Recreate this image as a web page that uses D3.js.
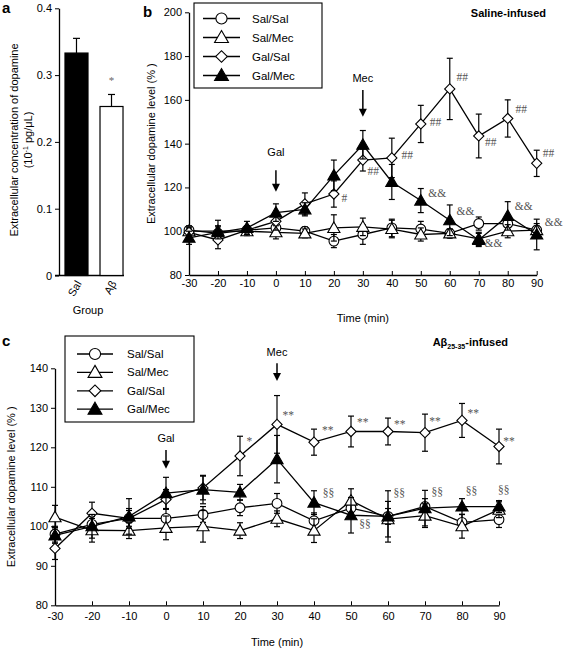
<!DOCTYPE html>
<html><head><meta charset="utf-8">
<script src="https://cdn.jsdelivr.net/npm/d3@7/dist/d3.min.js"></script>
<style>
body{margin:0;background:#fff;}
svg{font-family:"Liberation Sans",Arial,sans-serif;}
</style></head>
<body><svg id="c" width="563" height="650"></svg>
<script>
// ---------- DATA ----------
const groups = ["Sal", "Aβ"];
const groupValues = [0.333, 0.253];
const groupErr = [0.022, 0.018];
const groupTicks = [0, 0.1, 0.2, 0.3, 0.4];

const times = [-30, -20, -10, 0, 10, 20, 30, 40, 50, 60, 70, 80, 90];
const seriesNames = ["Sal/Sal", "Sal/Mec", "Gal/Sal", "Gal/Mec"];

// panel b (saline-infused)
const bSalSal = [100.5, 99, 100.5, 101.5, 100, 95.5, 98.5, 101.5, 101, 99, 103.5, 103.5, 100.5];
const bSalSalErr = [2, 3, 2, 3, 2, 3, 4.5, 4, 3.5, 2, 3, 3, 2];
const bSalMec = [100, 100, 100, 99.5, 99, 101.5, 102, 101, 98.5, 99, 96.5, 100, 100.5];
const bSalMecErr = [2, 5, 2, 3, 2, 6, 4, 4, 3, 2, 3, 3, 3];
const bGalSal = [99.5, 96, 100.5, 104.5, 112.5, 117, 132.5, 133.5, 149, 165, 143.5, 151.5, 131];
const bGalSalErr = [2, 4, 2, 4, 5, 6, 5, 9, 8.5, 14, 10, 8.5, 6];
const bGalMec = [97, 99.5, 101.5, 108.5, 110, 125.5, 139.5, 122.5, 114, 105, 96, 107, 98.5];
const bGalMecErr = [3, 3, 3, 4, 3, 7, 6.5, 8, 5.5, 7, 3, 6.5, 7];
const bTicksY = [80, 100, 120, 140, 160, 180, 200];

// panel c (Aβ25-35-infused)
const cSalSal = [98, 100.5, 102, 102, 103, 104.7, 105.8, 101.4, 104.6, 102.5, 105, 101, 101.7];
const cSalSalErr = [2, 2, 2, 2.5, 2, 2, 2.5, 2, 2, 2, 2, 2, 2];
const cSalMec = [102.3, 99, 98.9, 99.6, 100, 98.9, 101.9, 98.9, 106.5, 101.8, 102.7, 100, 104.2];
const cSalMecErr = [3, 3, 2, 3, 4, 2, 2, 3, 3, 4.5, 3, 3, 2];
const cGalSal = [94.4, 103.3, 102, 106.8, 109.7, 117.8, 125.8, 121.3, 124, 124, 123.7, 126.8, 120.2];
const cGalSalErr = [2.8, 2.8, 2.5, 2.5, 3, 5, 7.3, 3.3, 3.9, 3.4, 4.7, 4.3, 4.4];
const cGalMec = [97.7, 100, 102.5, 108.4, 109.3, 108.6, 117, 106, 102.8, 102.5, 104.6, 105, 105];
const cGalMecErr = [2, 3, 4.5, 4, 3.6, 2, 6, 3, 4.5, 6.5, 4.5, 2, 1.5];
const cTicksY = [80, 90, 100, 110, 120, 130, 140];

// significance marks: [time, value, text]
const bMarks = [[23.6,115,"#"],[33.6,127.6,"##"],[45.3,134.8,"##"],[55.1,150,"##"],[64.3,170.6,"##"],
  [74.1,140.9,"##"],[84.7,155.7,"##"],[94.1,135.7,"##"],
  [55.7,117.6,"&&"],[65.4,109.2,"&&"],[75.1,94.5,"&&"],[85.5,111.5,"&&"],[95.9,104.3,"&&"]];
const cMarks = [[22.5,121.6,"*"],[33.05,128.3,"**"],[43.7,124.3,"**"],[53.2,126.3,"**"],[63.2,125.9,"**"],
  [72.7,126.6,"**"],[83.05,128.7,"**"],[92.7,121.6,"**"],
  [43.9,108.5,"§§"],[53.8,100.6,"§§"],[63.05,108.4,"§§"],[73.3,108.6,"§§"],[82.6,108.9,"§§"],[91.3,109.2,"§§"]];
// arrows: [label, time, labelValue, arrowTop, arrowBottom]
const bArrows = [["Gal",0,136.3,127.9,118],["Mec",30,170.1,164.5,152.3]];
const cArrows = [["Gal",0,122.3,119.3,114.6],["Mec",30,144.2,141.3,136.8]];

// ---------- DRAW ----------
const svg = d3.select("#c");
const FS = 11;

function symbolFor(name){
  if(name==="Sal/Sal") return {type:d3.symbolCircle,size:75,fill:"#fff",rot:0};
  if(name==="Sal/Mec") return {type:d3.symbolTriangle,size:64,fill:"#fff",rot:0};
  if(name==="Gal/Sal") return {type:d3.symbolSquare,size:52,fill:"#fff",rot:45};
  return {type:d3.symbolTriangle,size:64,fill:"#000",rot:0};
}

// panel a
(function(){
  const y = d3.scaleLinear().domain([0,0.4]).range([275.5,8.3]);
  const x = d3.scaleBand().domain(groups).range([59,129]).paddingInner(0.343).paddingOuter(0.171);
  const g = svg.append("g");
  g.append("g").attr("transform","translate(59,0)")
    .call(d3.axisLeft(y).tickValues(groupTicks).tickFormat(d=>d===0?"0":d3.format(".1f")(d)).tickSize(4).tickSizeOuter(0))
    .call(a=>a.selectAll("text").attr("font-size",FS).attr("font-family","Liberation Sans"))
    .call(a=>a.select(".domain").attr("stroke-width",1.3));
  g.append("line").attr("x1",55).attr("x2",124).attr("y1",y(0)).attr("y2",y(0)).attr("stroke","#000").attr("stroke-width",1.3);
  groups.forEach((k,i)=>{
    const cx = x(k)+x.bandwidth()/2;
    g.append("line").attr("x1",cx).attr("x2",cx).attr("y1",y(groupValues[i])).attr("y2",y(groupValues[i]+groupErr[i])).attr("stroke","#000").attr("stroke-width",1.2);
    g.append("line").attr("x1",cx-3.5).attr("x2",cx+3.5).attr("y1",y(groupValues[i]+groupErr[i])).attr("y2",y(groupValues[i]+groupErr[i])).attr("stroke","#000").attr("stroke-width",1.2);
    g.append("rect").attr("x",x(k)).attr("width",x.bandwidth()).attr("y",y(groupValues[i])).attr("height",y(0)-y(groupValues[i]))
      .attr("fill",i===0?"#000":"#fff").attr("stroke","#000").attr("stroke-width",1.2);
    g.append("text").attr("transform",`translate(${cx+2},${y(0)+6}) rotate(-60)`).attr("text-anchor","end")
      .attr("dominant-baseline","central").attr("font-size",FS).text(k);
  });
  g.append("text").attr("x",x("Aβ")+x.bandwidth()/2).attr("y",y(groupValues[1]+groupErr[1])-10).attr("text-anchor","middle")
    .attr("font-size",11).attr("fill","#666").attr("font-family","Liberation Serif").text("*");
  g.append("text").attr("x",88).attr("y",314).attr("text-anchor","middle").attr("font-size",FS).text("Group");
  g.append("text").attr("transform","translate(18,140) rotate(-90)").attr("text-anchor","middle").attr("font-size",FS)
    .text("Extracellular concentration of dopamine");
  const t2 = g.append("text").attr("transform","translate(32,140) rotate(-90)").attr("text-anchor","middle").attr("font-size",FS);
  t2.append("tspan").text("(10");
  t2.append("tspan").attr("font-size",7).attr("dy",-4).text("-1");
  t2.append("tspan").attr("dy",4).text(" pg/μL)");
  svg.append("text").attr("x",2).attr("y",13).attr("font-weight","bold").attr("font-size",15).text("a");
})();

function linePanel(opt){
  const x = d3.scaleLinear().domain([-30,90]).range(opt.xr);
  const y = d3.scaleLinear().domain([opt.ymin,opt.ymax]).range(opt.yr);
  const g = svg.append("g");
  g.append("g").attr("transform",`translate(${opt.xr[0]},0)`)
    .call(d3.axisLeft(y).tickValues(opt.ticks).tickFormat(d=>String(d)).tickSize(4).tickSizeOuter(0).tickPadding(3))
    .call(a=>a.selectAll("text").attr("font-size",FS).attr("font-family","Liberation Sans"))
    .call(a=>a.select(".domain").attr("stroke-width",1.3));
  g.append("g").attr("transform",`translate(0,${opt.yr[0]})`)
    .call(d3.axisBottom(x).tickValues(times).tickFormat(d=>String(d)).tickSize(-4).tickSizeOuter(0).tickPadding(opt.xpad))
    .call(a=>a.selectAll("text").attr("font-size",FS).attr("font-family","Liberation Sans"))
    .call(a=>a.select(".domain").attr("stroke-width",1.3));
  // series
  opt.series.forEach((s,si)=>{
    const sg = g.append("g");
    s.vals.forEach((v,i)=>{
      const cx = x(times[i]);
      sg.append("line").attr("x1",cx).attr("x2",cx).attr("y1",y(v-s.err[i])).attr("y2",y(v+s.err[i])).attr("stroke","#000").attr("stroke-width",1.2);
      [v-s.err[i], v+s.err[i]].forEach(e=>sg.append("line").attr("x1",cx-3).attr("x2",cx+3).attr("y1",y(e)).attr("y2",y(e)).attr("stroke","#000").attr("stroke-width",1.2));
    });
    sg.append("path").datum(s.vals).attr("fill","none").attr("stroke","#000").attr("stroke-width",1.3)
      .attr("d",d3.line().x((d,i)=>x(times[i])).y(d=>y(d)));
    const sym = symbolFor(s.name);
    sg.selectAll(".m").data(s.vals).join("path")
      .attr("transform",(d,i)=>`translate(${x(times[i])},${y(d)+(sym.type===d3.symbolTriangle?1:0)}) rotate(${sym.rot})`)
      .attr("d",d3.symbol().type(sym.type).size(sym.size)).attr("fill",sym.fill).attr("stroke","#000").attr("stroke-width",1.1);
  });
  // marks
  opt.marks.forEach(m=>{
    g.append("text").attr("x",x(m[0])).attr("y",y(m[1])).attr("text-anchor","middle").attr("dominant-baseline","central")
      .attr("font-family","Liberation Serif").attr("font-size",11.5).attr("fill","#555").text(m[2]);
  });
  // arrows
  opt.arrows.forEach(a=>{
    const ax = x(a[1]);
    g.append("text").attr("x",ax).attr("y",y(a[2])).attr("text-anchor","middle").attr("dominant-baseline","central").attr("font-size",FS).text(a[0]);
    g.append("line").attr("x1",ax).attr("x2",ax).attr("y1",y(a[3])).attr("y2",y(a[4])-6).attr("stroke","#000").attr("stroke-width",1.5);
    g.append("path").attr("d",`M${ax-4},${y(a[4])-8}L${ax+4},${y(a[4])-8}L${ax},${y(a[4])}Z`).attr("fill","#000");
  });
  // legend
  const L = opt.legend;
  g.append("rect").attr("x",L.x).attr("y",L.y).attr("width",L.w).attr("height",L.h).attr("fill","#fff").attr("stroke","#000").attr("stroke-width",1.1);
  seriesNames.forEach((n,i)=>{
    const ly = L.y0 + i*L.dy;
    g.append("line").attr("x1",L.lx0).attr("x2",L.lx1).attr("y1",ly).attr("y2",ly).attr("stroke","#000").attr("stroke-width",1.3);
    const sym = symbolFor(n);
    g.append("path").attr("transform",`translate(${(L.lx0+L.lx1)/2},${ly+(sym.type===d3.symbolTriangle?1:0)}) rotate(${sym.rot})`)
      .attr("d",d3.symbol().type(sym.type).size(sym.size*1.3)).attr("fill",sym.fill).attr("stroke","#000").attr("stroke-width",1.1);
    g.append("text").attr("x",L.tx).attr("y",ly).attr("dominant-baseline","central").attr("font-size",11.5).text(n);
  });
  // axis titles
  g.append("text").attr("transform",`translate(${opt.ytx},${(opt.yr[0]+opt.yr[1])/2}) rotate(-90)`).attr("text-anchor","middle")
    .attr("font-size",FS).text("Extracellular dopamine level (% )");
  g.append("text").attr("x",(opt.xr[0]+opt.xr[1])/2).attr("y",opt.xty).attr("text-anchor","middle").attr("font-size",FS).text("Time (min)");
  svg.append("text").attr("x",opt.lab[0]).attr("y",opt.lab[1]).attr("font-weight","bold").attr("font-size",15).text(opt.lab[2]);
  return g;
}

linePanel({
  xr:[189,536.7], yr:[275,12.3], ymin:80, ymax:200, ticks:bTicksY, xpad:4,
  series:[{name:"Sal/Sal",vals:bSalSal,err:bSalSalErr},{name:"Sal/Mec",vals:bSalMec,err:bSalMecErr},
          {name:"Gal/Sal",vals:bGalSal,err:bGalSalErr},{name:"Gal/Mec",vals:bGalMec,err:bGalMecErr}],
  marks:bMarks, arrows:bArrows,
  legend:{x:194,y:3,w:128,h:85,y0:18.5,dy:19,lx0:203,lx1:240,tx:252},
  ytx:155, xty:322, lab:[143,17,"b"]
});
svg.append("text").attr("x",546).attr("y",17).attr("text-anchor","end").attr("font-weight","bold").attr("font-size",11).text("Saline-infused");

linePanel({
  xr:[55,499], yr:[605.3,368.3], ymin:80, ymax:140, ticks:cTicksY, xpad:7,
  series:[{name:"Sal/Sal",vals:cSalSal,err:cSalSalErr},{name:"Sal/Mec",vals:cSalMec,err:cSalMecErr},
          {name:"Gal/Sal",vals:cGalSal,err:cGalSalErr},{name:"Gal/Mec",vals:cGalMec,err:cGalMecErr}],
  marks:cMarks, arrows:cArrows,
  legend:{x:65,y:336,w:129,h:86,y0:354,dy:18.4,lx0:77,lx1:113,tx:127},
  ytx:15, xty:646, lab:[2,346,"c"]
});
const at = svg.append("text").attr("x",508).attr("y",346).attr("text-anchor","end").attr("font-weight","bold").attr("font-size",11);
at.append("tspan").text("Aβ");
at.append("tspan").attr("font-size",7).attr("dy",3).text("25-35");
at.append("tspan").attr("dy",-3).text("-infused");
</script></body></html>
